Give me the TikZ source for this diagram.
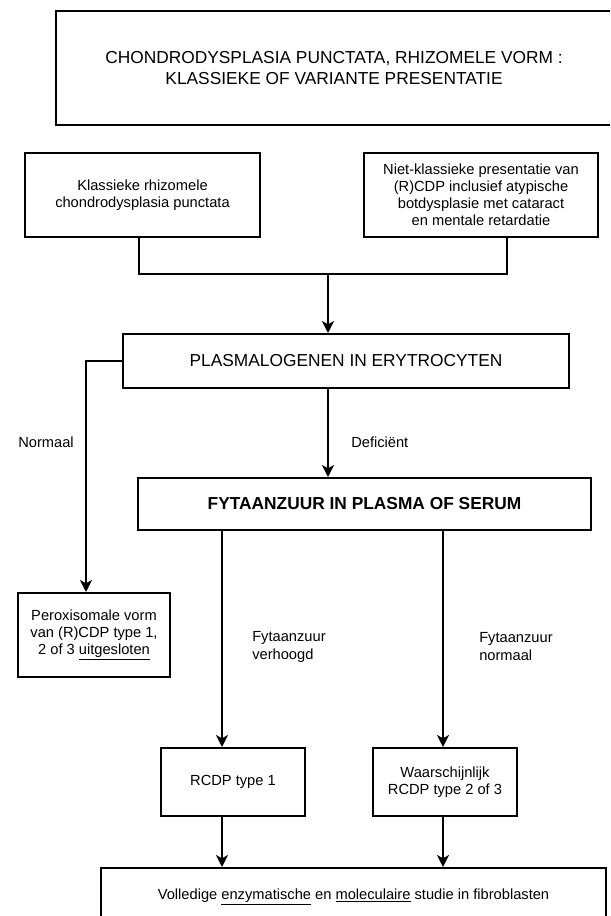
\documentclass[tikz,border=0pt]{standalone}
\usepackage{fontspec}
\setmainfont{Liberation Sans}
\usetikzlibrary{arrows.meta}
\begin{document}
\begin{tikzpicture}[x=0.75pt,y=-0.75pt,
  box/.style={draw, line width=1.5pt, inner sep=0pt, align=center,
    font=\fontsize{11pt}{12.75pt}\selectfont},
  bigbox/.style={box, font=\fontsize{13pt}{15.75pt}\selectfont},
  link/.style={line width=2.2pt},
  arr/.style={link, -{Stealth[length=9pt,width=9pt,inset=2.5pt]}},
  lbl/.style={font=\fontsize{11pt}{13.5pt}\selectfont, align=left,
    inner sep=0pt, anchor=west}]

\clip (0,0) rectangle (610,916);

% boxes
\node[bigbox, minimum width=417pt, minimum height=85.5pt] (top) at (334,68)
  {CHONDRODYSPLASIA PUNCTATA, RHIZOMELE VORM :\\KLASSIEKE OF VARIANTE PRESENTATIE};
\node[box, minimum width=176.25pt, minimum height=63pt] (klas) at (142.5,195)
  {Klassieke rhizomele\\chondrodysplasia punctata};
\node[box, minimum width=175.5pt, minimum height=63pt] (niet) at (481,195)
  {Niet-klassieke presentatie van\\(R)CDP inclusief atypische\\botdysplasie met cataract\\en mentale retardatie};
\node[bigbox, minimum width=334.5pt, minimum height=40.5pt] (plasma) at (346,361)
  {PLASMALOGENEN IN ERYTROCYTEN};
\node[bigbox, font=\fontsize{13pt}{15.75pt}\selectfont\bfseries,
  minimum width=339.75pt, minimum height=39pt] (fyt) at (364.5,504)
  {FYTAANZUUR IN PLASMA OF SERUM};
\node[box, minimum width=114pt, minimum height=63pt] (perox) at (94,635)
  {Peroxisomale vorm\\van (R)CDP type 1,\\2 of 3 \underline{uitgesloten}};
\node[box, minimum width=108pt, minimum height=51pt] (rcdp1) at (233,782)
  {RCDP type 1};
\node[box, minimum width=108pt, minimum height=51pt] (rcdp23) at (445,782)
  {Waarschijnlijk\\RCDP type 2 of 3};
\node[box, minimum width=378.75pt, minimum height=43.5pt] (final) at (353.5,897)
  {Volledige \underline{enzymatische} en \underline{moleculaire} studie in fibroblasten};

% connector columns
\coordinate (xl) at (139,0);
\coordinate (xr) at (507,0);
\coordinate (xm) at (328,0);
\coordinate (xn) at (86,0);
\coordinate (xa) at (222,0);
\coordinate (xb) at (443,0);
\coordinate (jn) at (328,274);

% connectors
\draw[link] (klas.south -| xl) |- (jn) -| (niet.south -| xr);
\draw[arr] (jn) -- (plasma.north -| xm);
\draw[arr] (plasma.west) -| (perox.north -| xn);
\draw[arr] (plasma.south -| xm) -- (fyt.north -| xm);
\draw[arr] (fyt.south -| xa) -- (rcdp1.north -| xa);
\draw[arr] (fyt.south -| xb) -- (rcdp23.north -| xb);
\draw[arr] (rcdp1.south -| xa) -- (final.north -| xa);
\draw[arr] (rcdp23.south -| xb) -- (final.north -| xb);

% branch labels
\node[lbl] (lnorm) at (18,442) {Normaal};
\node[lbl] (ldef) at (351,442) {Deficiënt};
\node[lbl] (lhigh) at (252,647) {Fytaanzuur\\verhoogd};
\node[lbl] (lnormal) at (479,647) {Fytaanzuur\\normaal};
\end{tikzpicture}
\end{document}
